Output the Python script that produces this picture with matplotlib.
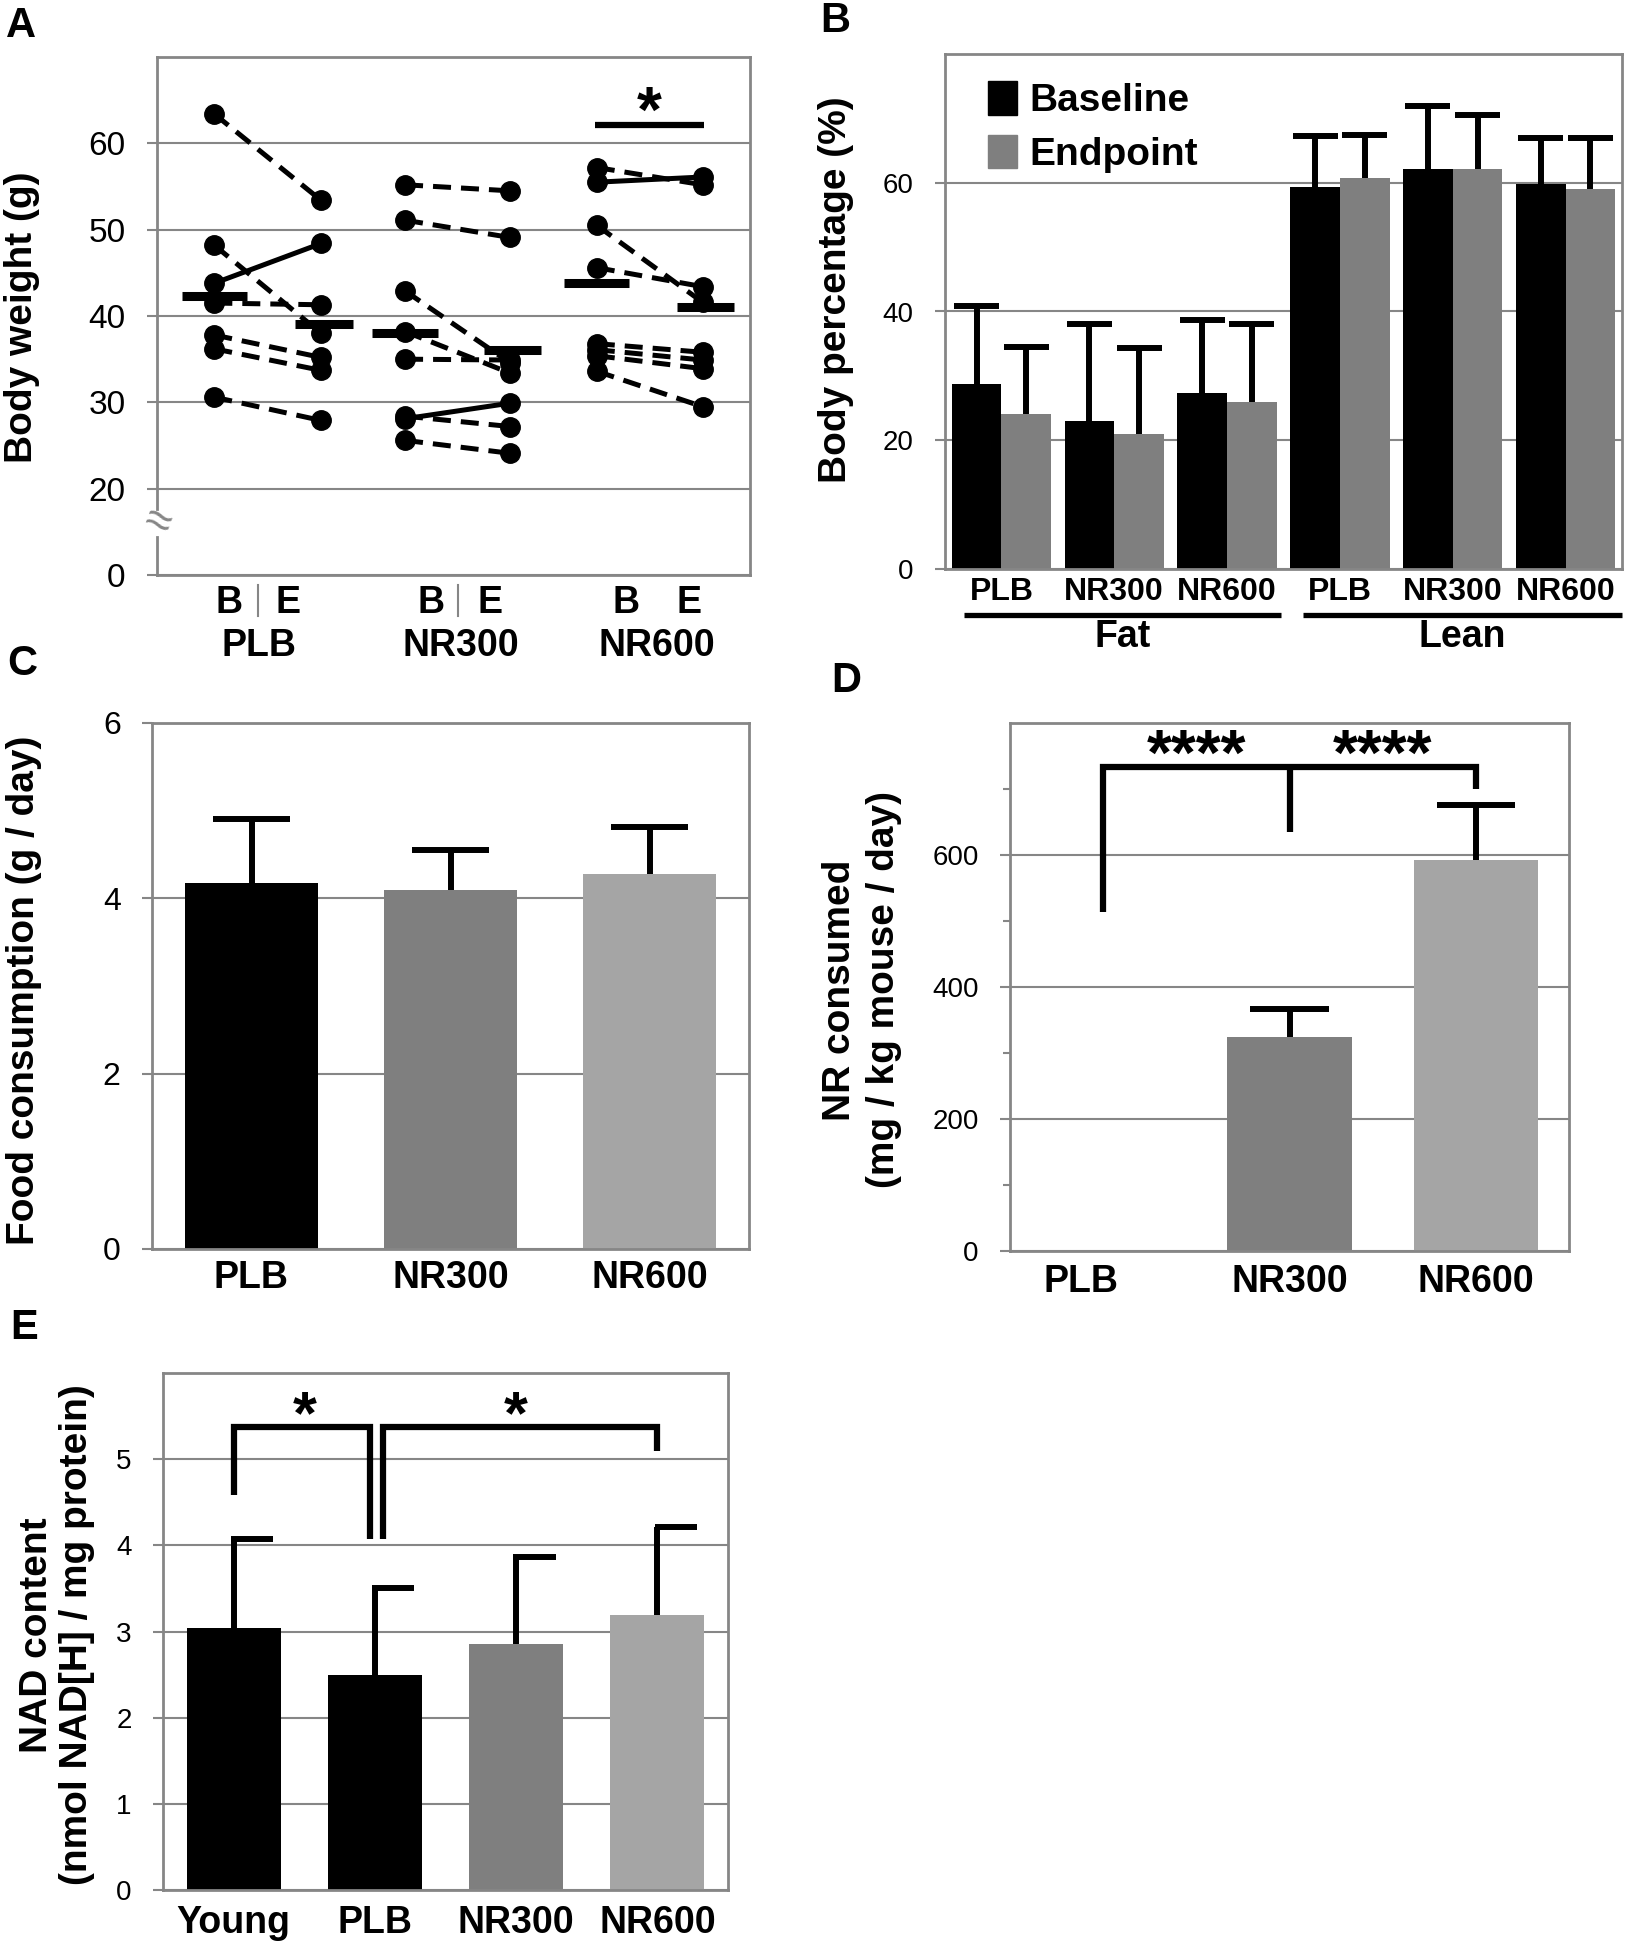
import matplotlib
matplotlib.use('Agg')
import matplotlib.pyplot as plt
from matplotlib.patches import Patch

plt.rcParams['font.family'] = ['Liberation Sans', 'DejaVu Sans']

# ---- data ----
# A: body weight per mouse, baseline (B) and endpoint (E)
groups = ['PLB', 'NR300', 'NR600']
plb_base = [63.4, 48.2, 43.8, 41.5, 37.8, 36.2, 30.6]
plb_end = [53.4, 38.0, 48.4, 41.3, 35.2, 33.7, 27.9]
nr300_base = [55.2, 51.1, 42.9, 38.2, 35.0, 28.1, 28.4, 25.6]
nr300_end = [54.5, 49.1, 34.6, 33.4, 34.9, 29.9, 27.2, 24.1]
nr600_base = [57.2, 55.5, 50.5, 45.6, 36.8, 36.1, 35.4, 33.6]
nr600_end = [55.2, 56.1, 41.6, 43.4, 35.8, 34.9, 33.9, 29.5]
mean_base = [42.3, 38.0, 43.8]
mean_end = [39.1, 36.1, 41.1]

# B: body composition (%)
comp_labels = ['PLB', 'NR300', 'NR600', 'PLB', 'NR300', 'NR600']
baseline_pct = [28.7, 23.0, 27.3, 59.3, 62.2, 59.8]
baseline_sd = [12.1, 15.0, 11.4, 7.9, 9.7, 7.1]
endpoint_pct = [24.0, 20.9, 25.9, 60.8, 62.1, 59.1]
endpoint_sd = [10.5, 13.4, 12.1, 6.6, 8.5, 7.8]

# C: food consumption (g/day)
food = [4.17, 4.09, 4.28]
food_sd = [0.74, 0.46, 0.53]

# D: NR consumed (mg/kg/day)
nr_consumed = [0, 324.5, 593]
nr_consumed_sd = [0, 42.5, 82.5]

# E: NAD content
nad_groups = ['Young', 'PLB', 'NR300', 'NR600']
nad = [3.04, 2.49, 2.86, 3.19]
nad_sd = [1.03, 1.01, 1.00, 1.02]

# ---- layout helpers ----
W, H = 1628, 1950
GRAY = '#868686'
BAR3 = ['#000000', '#7f7f7f', '#a5a5a5']

fig = plt.figure(figsize=(W / 100, H / 100), dpi=100)


def box(l, t, r, b):
    return [l / W, 1 - b / H, (r - l) / W, (b - t) / H]


def style(ax, labelsize):
    for s in ax.spines.values():
        s.set_color(GRAY)
        s.set_linewidth(2)
    ax.set_axisbelow(True)
    ax.yaxis.grid(True, color=GRAY, lw=1.5)
    ax.tick_params(axis='y', length=7.5, width=1.5, color=GRAY, pad=15,
                   labelsize=labelsize)
    ax.tick_params(axis='x', bottom=False, labelbottom=False)


def error_up(ax, xs, means, sds, half, right_only=False, lw=4.3):
    for x, m, s in zip(xs, means, sds):
        if s == 0:
            continue
        ax.plot([x, x], [m, m + s], color='k', lw=lw, solid_capstyle='butt', zorder=3)
        x0 = x - 0.02 if right_only else x - half
        ax.plot([x0, x + half], [m + s, m + s], color='k', lw=lw,
                solid_capstyle='butt', zorder=3)


def cat_labels(ax, xs, labels, y_off, size=27):
    tr = ax.get_xaxis_transform()
    for x, lab in zip(xs, labels):
        ax.text(x, y_off, lab, transform=tr, ha='center', va='center',
                fontsize=size, fontweight='bold')


def ylab(x, y, s):
    fig.text(x / W, 1 - y / H, s, rotation=90, ha='center', va='center',
             fontsize=28, fontweight='bold')


def letter(x, y, s):
    fig.text(x / W, 1 - y / H, s, ha='center', va='center',
             fontsize=30, fontweight='bold')


# ---- A: body weight ----
axA = fig.add_axes(box(157, 57, 750, 575))
style(axA, 24)
axA.set_xlim(0, 6)
axA.set_ylim(10, 70)
axA.set_yticks([10, 20, 30, 40, 50, 60])
axA.set_yticklabels(['0', '20', '30', '40', '50', '60'])

b_x = [0.58, 2.51, 4.45]
e_x = [1.66, 3.57, 5.52]
for bx, ex, base, end in zip(b_x, e_x, [plb_base, nr300_base, nr600_base],
                             [plb_end, nr300_end, nr600_end]):
    for b, e in zip(base, end):
        ls = '-' if e > b else (0, (3.6, 2))
        axA.plot([bx, ex], [b, e], color='k', lw=3.6, ls=ls, marker='o',
                 ms=14, zorder=3)
for bx, ex, mb, me in zip(b_x, e_x, mean_base, mean_end):
    axA.plot([bx - 0.33, bx + 0.33], [mb, mb], color='k', lw=6.5,
             solid_capstyle='butt', zorder=4)
    axA.plot([ex + 0.03 - 0.29, ex + 0.03 + 0.29], [me, me], color='k', lw=6.5,
             solid_capstyle='butt', zorder=4)

# significance bar NR600
axA.plot([4.43, 5.53], [62.15, 62.15], color='k', lw=4.5, solid_capstyle='butt')
axA.text(4.98, 61.3, '*', ha='center', va='baseline', fontsize=46, fontweight='bold')

# axis break on the left spine
axA.spines['left'].set_visible(False)
ytr = axA.get_yaxis_transform()
axA.plot([0, 0], [10, 14.35], transform=ytr, color=GRAY, lw=2, clip_on=False)
axA.plot([0, 0], [17.6, 70], transform=ytr, color=GRAY, lw=2, clip_on=False)
axA.text(0, 16.0, '≈', transform=ytr, ha='center', va='center', fontsize=34,
         color=GRAY, rotation=-20)

cat_labels(axA, [0.73, 2.77, 4.75], ['B'] * 3, -28 / 518)
cat_labels(axA, [1.33, 3.37, 5.38], ['E'] * 3, -28 / 518)
cat_labels(axA, [1.03, 3.07, 5.06], groups, -71 / 518)
xtr = axA.get_xaxis_transform()
for sx in [1.02, 3.05]:
    axA.plot([sx, sx], [-10 / 518, -41 / 518], transform=xtr, color=GRAY,
             lw=1.5, clip_on=False)
ylab(22, 317, 'Body weight (g)')
letter(21, 26, 'A')

# ---- B: body composition ----
axB = fig.add_axes(box(945, 54, 1622, 569))
style(axB, 20)
axB.set_xlim(-0.5, 5.5)
axB.set_ylim(0, 80)
axB.set_yticks([0, 20, 40, 60])
xs = list(range(len(comp_labels)))
xb = [x - 0.22 for x in xs]
xe = [x + 0.22 for x in xs]
axB.bar(xb, baseline_pct, width=0.44, color='#000000', label='Baseline')
axB.bar(xe, endpoint_pct, width=0.44, color='#7f7f7f', label='Endpoint')
error_up(axB, xb, baseline_pct, baseline_sd, 0.2)
error_up(axB, xe, endpoint_pct, endpoint_sd, 0.2)
cat_labels(axB, xs, comp_labels, -23 / 515, size=23)
xtrB = axB.get_xaxis_transform()
axB.plot([-0.33, 2.48], [-46 / 515] * 2, transform=xtrB, color='k', lw=3.8,
         clip_on=False, solid_capstyle='butt')
axB.plot([2.67, 5.5], [-46 / 515] * 2, transform=xtrB, color='k', lw=3.8,
         clip_on=False, solid_capstyle='butt')
cat_labels(axB, [1.07, 4.08], ['Fat', 'Lean'], -68 / 515)
axB.legend(handles=[Patch(color='#000000', label='Baseline'),
                    Patch(color='#7f7f7f', label='Endpoint')],
           loc='upper left', bbox_to_anchor=(0.035, 0.985), frameon=False,
           borderpad=0, handlelength=0.75, handleheight=0.95, handletextpad=0.3,
           labelspacing=0.4, prop={'size': 28, 'weight': 'bold'})
ylab(836, 290, 'Body percentage (%)')
letter(835, 21, 'B')

# ---- C: food consumption ----
axC = fig.add_axes(box(152, 723, 749, 1249))
style(axC, 23)
axC.set_xlim(-0.5, 2.5)
axC.set_ylim(0, 6)
axC.set_yticks([0, 2, 4, 6])
xc = range(len(groups))
axC.bar(xc, food, width=0.667, color=BAR3)
error_up(axC, xc, food, food_sd, 0.195)
cat_labels(axC, xc, groups, -29 / 526)
ylab(24, 990, 'Food consumption (g / day)')
letter(22, 664, 'C')

# ---- D: NR consumed ----
axD = fig.add_axes(box(1010, 723, 1569, 1251))
style(axD, 20)
axD.set_xlim(-0.5, 2.5)
axD.set_ylim(0, 800)
axD.set_yticks([0, 200, 400, 600])
axD.set_yticks([100, 300, 500, 700], minor=True)
axD.tick_params(axis='y', which='minor', length=5, width=1.5, color=GRAY)
xd = range(len(groups))
axD.bar(xd, nr_consumed, width=0.667, color=BAR3)
error_up(axD, xd, nr_consumed, nr_consumed_sd, 0.21)
axD.plot([0, 0, 2, 2], [514, 733, 733, 700], color='k', lw=4.5,
         solid_joinstyle='miter', solid_capstyle='butt')
axD.plot([1, 1], [733, 635], color='k', lw=4.5, solid_capstyle='butt')
axD.text(0.5, 722, '****', ha='center', va='baseline', fontsize=46, fontweight='bold')
axD.text(1.5, 722, '****', ha='center', va='baseline', fontsize=46, fontweight='bold')
cat_labels(axD, [-0.12, 1, 2], groups, -31 / 528)
fig.text(840 / W, 1 - 990 / H, 'NR consumed', rotation=90, ha='center',
         va='center', fontsize=28, fontweight='bold')
fig.text(884 / W, 1 - 990 / H, '(mg / kg mouse / day)', rotation=90,
         ha='center', va='center', fontsize=28, fontweight='bold')
letter(846, 681, 'D')

# ---- E: NAD content ----
axE = fig.add_axes(box(163, 1373, 728, 1890))
style(axE, 20)
axE.set_xlim(-0.5, 3.5)
axE.set_ylim(0, 6)
axE.set_yticks([0, 1, 2, 3, 4, 5])
xe4 = range(len(nad_groups))
axE.bar(xe4, nad, width=0.667, color=['#000000', '#000000', '#7f7f7f', '#a5a5a5'])
error_up(axE, xe4, nad, nad_sd, 0.28, right_only=True)
axE.plot([0, 0, 0.965, 0.965], [4.58, 5.37, 5.37, 4.07], color='k', lw=4.5,
         solid_joinstyle='miter', solid_capstyle='butt')
axE.plot([1.055, 1.055, 3, 3], [4.07, 5.37, 5.37, 5.09], color='k', lw=4.5,
         solid_joinstyle='miter', solid_capstyle='butt')
axE.text(0.5, 5.3, '*', ha='center', va='baseline', fontsize=44, fontweight='bold')
axE.text(2.0, 5.3, '*', ha='center', va='baseline', fontsize=44, fontweight='bold')
cat_labels(axE, xe4, nad_groups, -33 / 517)
fig.text(37 / W, 1 - 1635 / H, 'NAD content', rotation=90, ha='center',
         va='center', fontsize=28, fontweight='bold')
fig.text(77 / W, 1 - 1635 / H, '(nmol NAD[H] / mg protein)', rotation=90,
         ha='center', va='center', fontsize=28, fontweight='bold')
letter(24, 1328, 'E')

fig.savefig('out.png', dpi=100)
